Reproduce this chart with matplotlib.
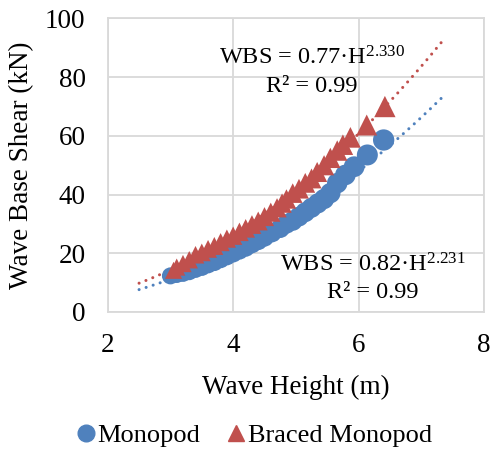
import matplotlib
matplotlib.use("Agg")
import matplotlib.pyplot as plt
import numpy as np

plt.rcParams["font.family"] = ["Liberation Serif", "DejaVu Serif"]
plt.rcParams["mathtext.fontset"] = "custom"
plt.rcParams["mathtext.rm"] = "Liberation Serif"

BLUE = "#4F81BD"
RED = "#C0504D"

# wave height (m) and wave base shear (kN)
mono_h = [3.00, 3.10, 3.20, 3.30, 3.40, 3.50, 3.60, 3.70, 3.80, 3.90, 4.00,
          4.10, 4.20, 4.30, 4.40, 4.50, 4.62, 4.75, 4.85, 4.95, 5.05, 5.15,
          5.25, 5.35, 5.45, 5.55, 5.66, 5.79, 5.93, 6.14, 6.40]
mono_wbs = [12.3, 12.8, 13.2, 13.8, 14.6, 15.3, 16.2, 17.0, 18.0, 19.0, 20.0,
            21.0, 22.0, 23.2, 24.3, 25.5, 27.0, 28.5, 30.0, 31.0, 32.5, 34.0,
            35.5, 37.0, 38.5, 40.5, 43.9, 46.7, 49.5, 53.5, 58.6]

braced_h = [3.05, 3.10, 3.20, 3.30, 3.40, 3.50, 3.60, 3.70, 3.80, 3.90, 4.00,
            4.10, 4.20, 4.30, 4.40, 4.50, 4.60, 4.70, 4.78, 4.85, 4.95, 5.05,
            5.15, 5.25, 5.34, 5.45, 5.55, 5.66, 5.75, 5.87, 6.13, 6.42]
braced_wbs = [14.2, 15.3, 16.5, 17.8, 19.5, 20.3, 21.5, 22.5, 23.8, 25.0, 26.0,
              27.3, 28.5, 29.8, 31.0, 32.5, 34.0, 35.5, 37.1, 38.5, 40.5, 42.0,
              44.0, 45.5, 47.7, 50.0, 52.5, 55.0, 57.0, 59.5, 63.7, 70.0]

x_ticks = [2, 4, 6, 8]
y_ticks = [0, 20, 40, 60, 80, 100]


def power_fit(h, y):
    b, log_a = np.polyfit(np.log(h), np.log(y), 1)
    return np.exp(log_a), b


fig = plt.figure(figsize=(4.91, 4.5), dpi=100)
ax = fig.add_axes([0.2194, 0.3067, 0.7663, 0.6522])

trend_h = np.linspace(2.5, 7.35, 200)
for h, y, color in [(mono_h, mono_wbs, BLUE), (braced_h, braced_wbs, RED)]:
    a, b = power_fit(h, y)
    ax.plot(trend_h, a * trend_h ** b, color=color, lw=2.2,
            linestyle=(0, (0.01, 2.4)), dash_capstyle="round", zorder=2)

# markers grow a little with wave height
sizes_m = [150 + 25 * (v - 3) for v in mono_h]
sizes_b = [150 + 25 * (v - 3) for v in braced_h]
ax.scatter(mono_h, mono_wbs, s=sizes_m, color=BLUE, marker="o",
           linewidths=0, zorder=3)
ax.scatter(braced_h, braced_wbs, s=sizes_b, color=RED, marker="^",
           linewidths=0, zorder=4)

ax.set_xlim(2, 8)
ax.set_ylim(0, 100)
ax.set_xticks(x_ticks)
ax.set_yticks(y_ticks)
ax.tick_params(length=0, labelsize=19.5)
ax.tick_params(axis="x", pad=15)
ax.tick_params(axis="y", pad=16)
ax.grid(True, color="#d9d9d9", linewidth=1.3, zorder=0)
ax.set_axisbelow(True)
for sp in ax.spines.values():
    sp.set_color("#d9d9d9")
    sp.set_linewidth(1.3)

ax.set_xlabel("Wave Height (m)", fontsize=19.5, labelpad=12)
ax.set_ylabel("Wave Base Shear (kN)", fontsize=19.5, labelpad=8)

eq_kw = dict(ha="center", va="baseline", fontsize=17.5, zorder=5)
ax.text(5.26, 84.2, "WBS = 0.77·$\\mathregular{H^{2.330}}$", **eq_kw)
ax.text(5.26, 75.0, "R² = 0.99", **eq_kw)
ax.text(6.23, 13.7, "WBS = 0.82·$\\mathregular{H^{2.231}}$", **eq_kw)
ax.text(6.23, 4.7, "R² = 0.99", **eq_kw)

handles = [
    plt.Line2D([], [], marker="o", color=BLUE, linestyle="none", markersize=12),
    plt.Line2D([], [], marker="^", color=RED, linestyle="none", markersize=12),
]
fig.legend(handles, ["Monopod", "Braced Monopod"], loc="center",
           bbox_to_anchor=(0.515, 1 - 435 / 450), ncol=2, frameon=False,
           fontsize=19, handletextpad=0.0, columnspacing=0.9,
           handlelength=0.9)

fig.savefig("out.png", dpi=100)
